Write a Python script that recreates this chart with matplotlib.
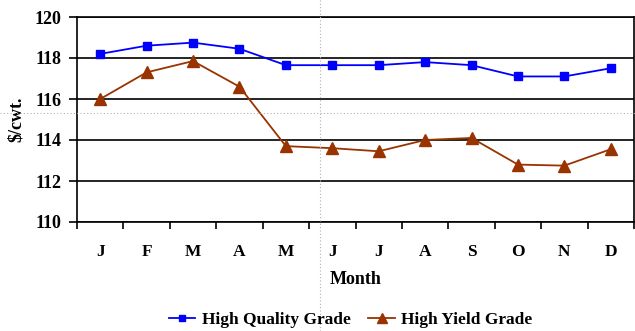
import numpy as np
import matplotlib.pyplot as plt
from matplotlib.lines import Line2D

months = ["J", "F", "M", "A", "M", "J", "J", "A", "S", "O", "N", "D"]
high_quality = [118.2, 118.6, 118.75, 118.45, 117.65, 117.65, 117.65, 117.8, 117.65, 117.1, 117.1, 117.5]
high_yield = [116.0, 117.3, 117.85, 116.6, 113.7, 113.6, 113.45, 114.0, 114.1, 112.8, 112.75, 113.55]

plt.rcParams['font.family'] = ['Liberation Serif', 'DejaVu Serif']
plt.rcParams['font.weight'] = 'bold'

W, H = 635, 331
fig = plt.figure(figsize=(W / 100, H / 100), dpi=100)
ax = fig.add_axes([77 / W, 1 - 222 / H, (634 - 77) / W, (222 - 17) / H])

x = np.arange(len(months))
ax.plot(x, high_quality, color='#0000FF', marker='s', markersize=5.5, lw=1.3,
        label="High Quality Grade")
ax.plot(x, high_yield, color='#993300', marker='^', markersize=8, lw=1.3,
        label="High Yield Grade")

ax.set_xlim(-0.5, len(months) - 0.5)
ax.set_ylim(110, 120)
ax.set_yticks(np.arange(110, 121, 2))
ax.yaxis.grid(True, color='black', lw=1.2)
ax.set_axisbelow(True)

ax.set_xticks(x)
ax.set_xticklabels(months, fontsize=12.5, fontweight='bold')
ax.set_xticks(np.arange(-0.5, len(months), 1), minor=True)
ax.tick_params(axis='x', which='major', length=0, pad=16)
ax.tick_params(axis='x', which='minor', length=5, width=1.2, direction='out')
ax.tick_params(axis='y', length=6, width=1.2, labelsize=13, pad=5)
for lab in ax.get_yticklabels():
    lab.set_fontweight('bold')

for s in ax.spines.values():
    s.set_color('black')
    s.set_linewidth(1.2)

ax.set_ylabel("$/cwt.", fontsize=13, fontweight='bold', labelpad=7)
ax.set_xlabel("Month", fontsize=13, fontweight='bold', labelpad=8)

leg = fig.legend(loc='center', bbox_to_anchor=(351 / W, 1 - 320 / H), ncol=2,
                 frameon=False, handlelength=1.5, columnspacing=1.0,
                 handletextpad=0.4,
                 prop={'family': 'Liberation Serif', 'size': 12.5, 'weight': 'bold'})
leg.legend_handles[0].set_markersize(4.5)
leg.legend_handles[1].set_markersize(7)

# faint dotted guides
fig.add_artist(Line2D([320 / W, 320 / W], [0, 1], transform=fig.transFigure,
                      color='#b0b0b0', lw=0.8, ls=(0, (1, 2))))
fig.add_artist(Line2D([0, 1], [1 - 113 / H, 1 - 113 / H], transform=fig.transFigure,
                      color='#b0b0b0', lw=0.8, ls=(0, (1, 2))))

fig.savefig("out.png", dpi=100)
